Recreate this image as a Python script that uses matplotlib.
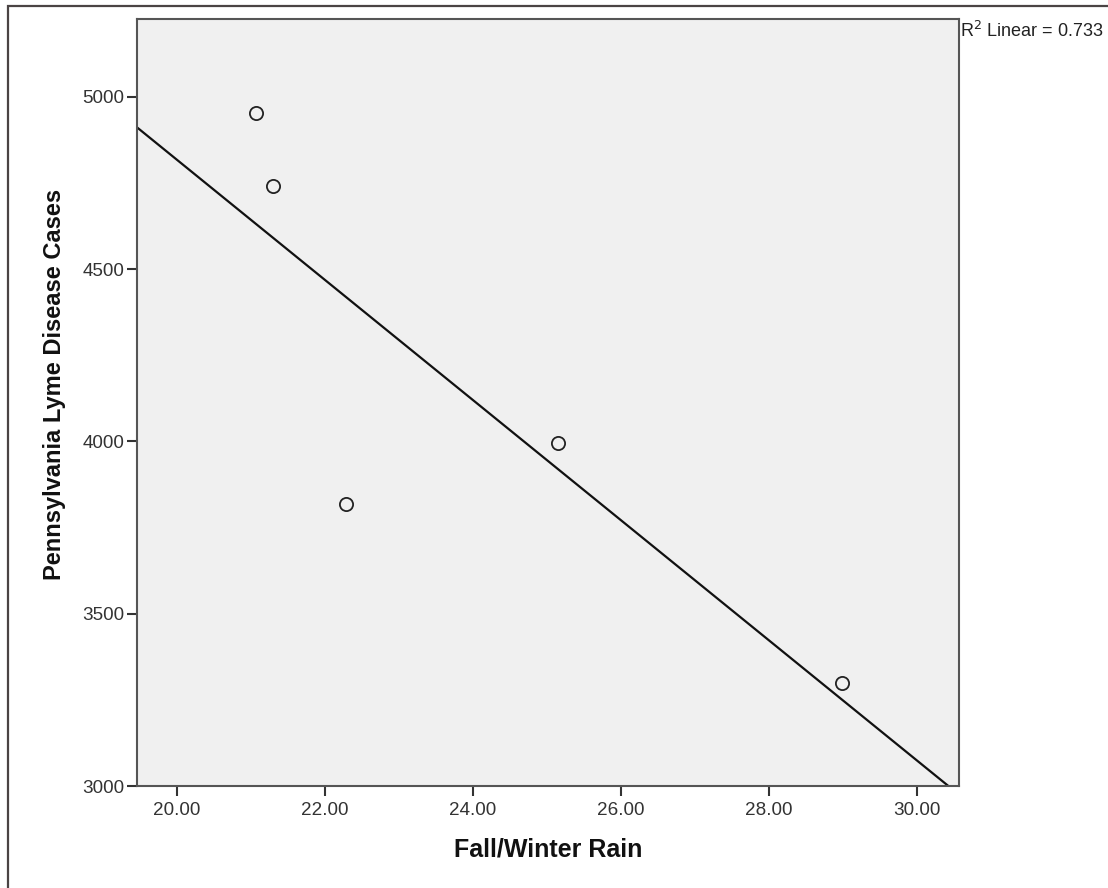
import numpy as np
import matplotlib
matplotlib.use('Agg')
import matplotlib.pyplot as plt
from matplotlib.patches import Rectangle

plt.rcParams['font.family'] = ['Liberation Sans', 'DejaVu Sans']

# data
rain = [21.07, 21.30, 22.29, 25.15, 28.99]
cases = [4954, 4742, 3819, 3996, 3299]
x_ticks = [20, 22, 24, 26, 28, 30]
y_ticks = [3000, 3500, 4000, 4500, 5000]
r2_label = 0.733

W, H = 1108, 888
fig = plt.figure(figsize=(W / 100, H / 100), dpi=100)
fig.patch.set_facecolor('white')
ax = fig.add_axes([137 / W, 1 - 786 / H, (959 - 137) / W, (786 - 19) / H])
ax.set_facecolor('#f0f0f0')

x0, x1 = 19.46, 30.57
y0, y1 = 3000, 5226

# fit line
slope, icpt = np.polyfit(rain, cases, 1)
xs = np.array([x0, x1])
ax.plot(xs, slope * xs + icpt, color='#111111', lw=1.6, zorder=2)

ax.plot(rain, cases, linestyle='none', marker='o', markersize=9.5,
        mfc='none', mec='#222222', mew=1.3, zorder=3)

ax.set_xlim(x0, x1)
ax.set_ylim(y0, y1)
ax.set_xticks(x_ticks)
ax.set_xticklabels(['%.2f' % v for v in x_ticks])
ax.set_yticks(y_ticks)
ax.set_yticklabels([str(v) for v in y_ticks])

for s in ax.spines.values():
    s.set_color('#555555')
    s.set_linewidth(1.5)
ax.tick_params(axis='both', direction='out', length=7.5, width=1.5,
               color='#333333', labelcolor='#333333', labelsize=13.6)
ax.tick_params(axis='y', pad=1.5)
ax.tick_params(axis='x', pad=4)

ax.set_xlabel('Fall/Winter Rain', fontsize=18, fontweight='bold',
              color='#111111', labelpad=13)
ax.set_ylabel('Pennsylvania Lyme Disease Cases', fontsize=17,
              fontweight='bold', color='#111111', labelpad=12)
ax.yaxis.label.set_y(0.524)

fig.text(960 / W, 1 - 37 / H, r'R$^2$ Linear = %.3f' % r2_label,
         fontsize=13, color='#222222', ha='left', va='baseline')

# outer frame
fig.add_artist(Rectangle((8 / W, -0.1), 1.2, (1 - 6 / H) + 0.1,
                         transform=fig.transFigure, fill=False,
                         ec='#4a4444', lw=1.6))

fig.savefig('out.png', dpi=100)
